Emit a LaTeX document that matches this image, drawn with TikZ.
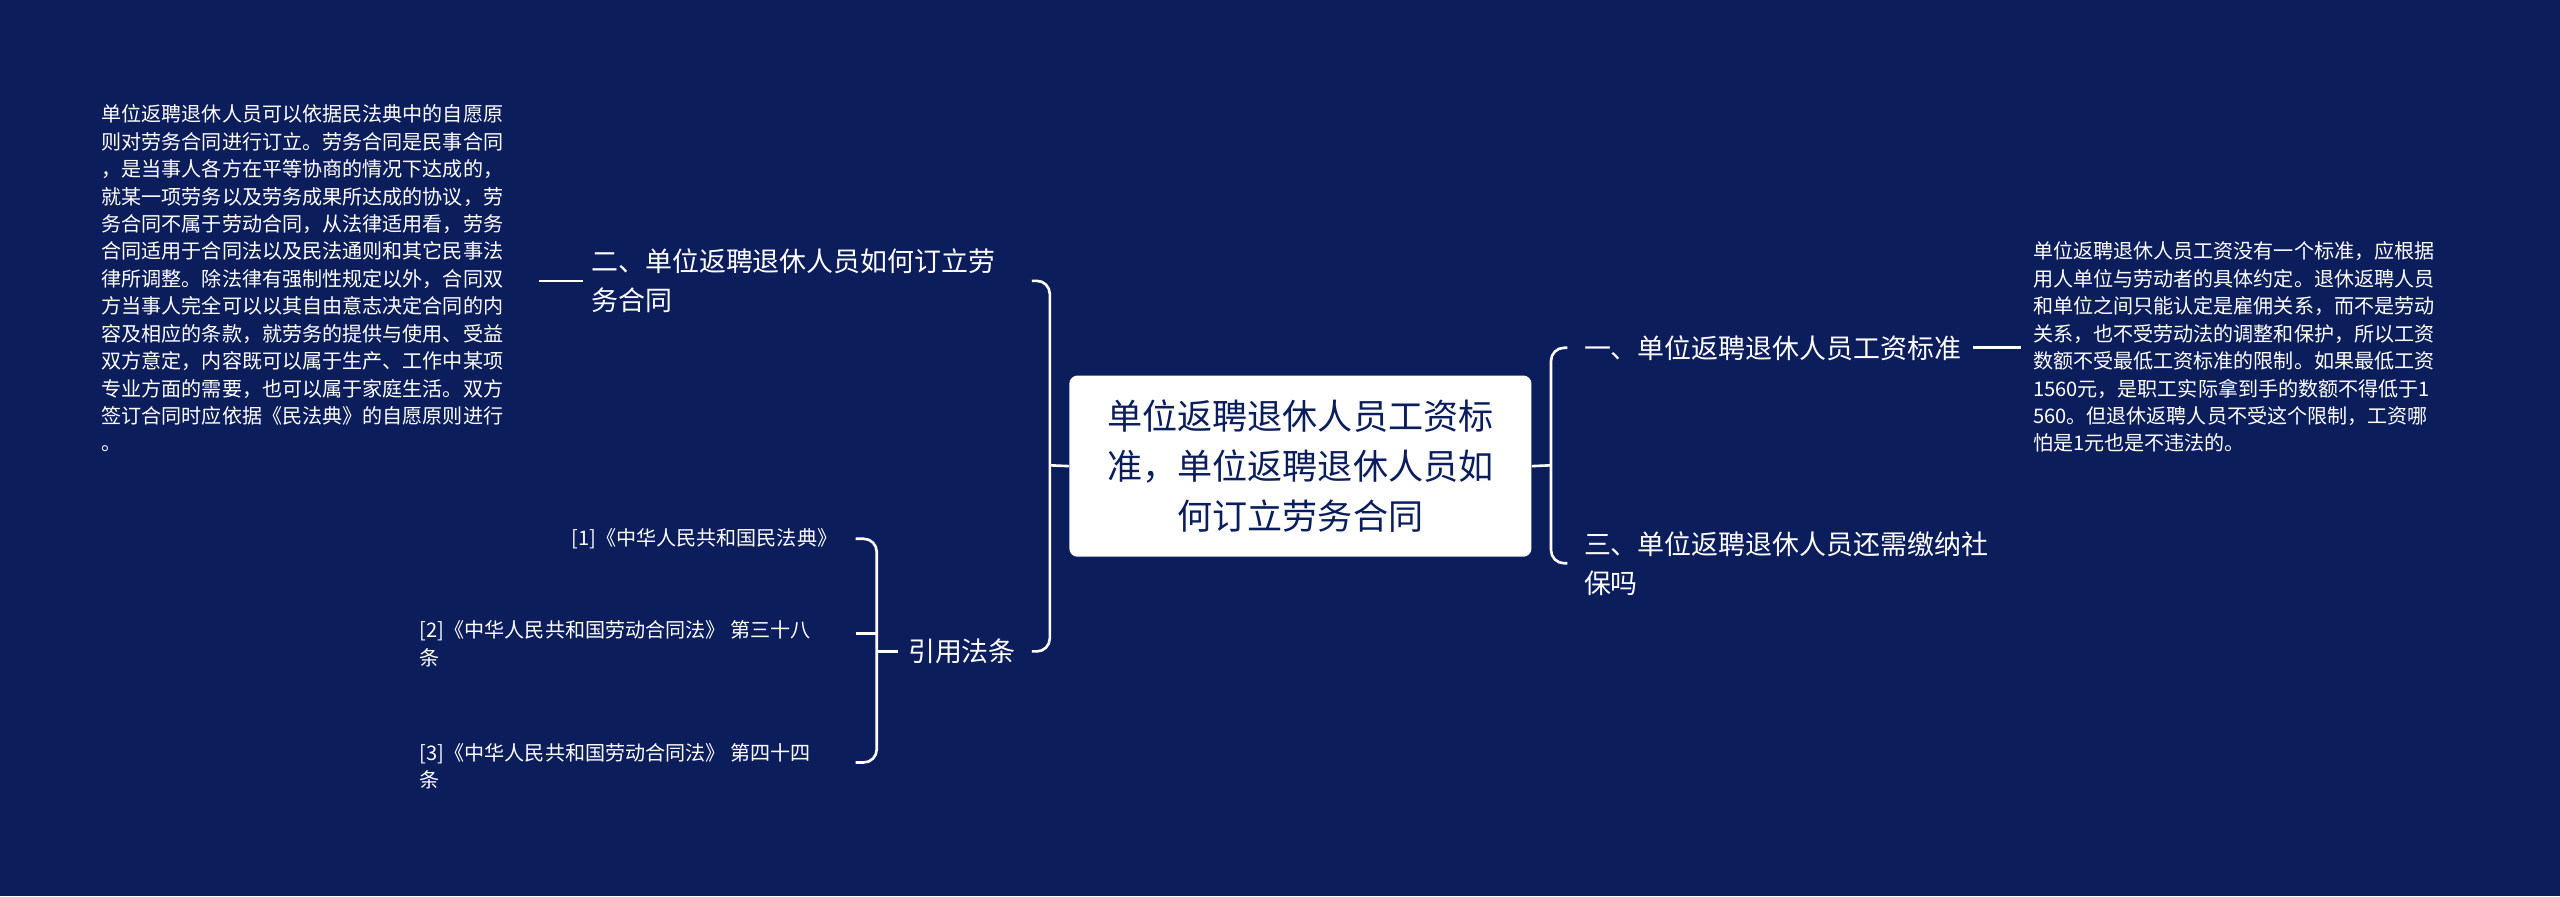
\documentclass[tikz,border=0pt]{standalone}
\usepackage{fontspec}
\setmainfont{Noto Sans CJK SC}
\definecolor{bg}{HTML}{0B1E5B}
\begin{document}
\begin{tikzpicture}[x=1pt,y=-1pt,
  small/.style={text=white,font=\fontsize{12.3}{16.8}\selectfont,inner sep=0pt,align=left},
  branch/.style={text=white,font=\fontsize{16.5}{24}\selectfont,inner sep=0pt,align=left},
  center/.style={fill=white,rounded corners=5pt,text=bg,font=\fontsize{21.5}{30.5}\selectfont,align=center,minimum width=283pt,minimum height=111pt,inner sep=0pt},
  conn/.style={draw=white,line width=1.6pt,rounded corners=8pt}]
\fill[bg] (0,0) rectangle (1568,549);
\useasboundingbox (0,0) rectangle (1568,549);
\node[center] (c) at (796.5,285.5) {单位返聘退休人员工资标\\准，单位返聘退休人员如\\何订立劳务合同};
\node[branch,anchor=west] (b2) at (362,172) {二、单位返聘退休人员如何订立劳\\务合同};
\node[branch,anchor=west] (b4) at (556,399) {引用法条};
\node[branch,anchor=west] (b1) at (970,213) {一、单位返聘退休人员工资标准};
\node[branch,anchor=west] (b3) at (970,345) {三、单位返聘退休人员还需缴纳社\\保吗};
\node[small,anchor=north west] (t2) at (62,64) {单位返聘退休人员可以依据民法典中的自愿原\\则对劳务合同进行订立。劳务合同是民事合同\\，是当事人各方在平等协商的情况下达成的，\\就某一项劳务以及劳务成果所达成的协议，劳\\务合同不属于劳动合同，从法律适用看，劳务\\合同适用于合同法以及民法通则和其它民事法\\律所调整。除法律有强制性规定以外，合同双\\方当事人完全可以以其自由意志决定合同的内\\容及相应的条款，就劳务的提供与使用、受益\\双方意定，内容既可以属于生产、工作中某项\\专业方面的需要，也可以属于家庭生活。双方\\签订合同时应依据《民法典》的自愿原则进行\\。};
\node[small,anchor=north west] (t1) at (1245,148) {单位返聘退休人员工资没有一个标准，应根据\\用人单位与劳动者的具体约定。退休返聘人员\\和单位之间只能认定是雇佣关系，而不是劳动\\关系，也不受劳动法的调整和保护，所以工资\\数额不受最低工资标准的限制。如果最低工资\\1560元，是职工实际拿到手的数额不得低于1\\560。但退休返聘人员不受这个限制，工资哪\\怕是1元也是不违法的。};
\node[small,anchor=east] (r1) at (513,330) {[1]《中华人民共和国民法典》};
\node[small,anchor=north west] (r2) at (257,380) {[2]《中华人民共和国劳动合同法》 第三十八\\条};
\node[small,anchor=north west] (r3) at (257,455) {[3]《中华人民共和国劳动合同法》 第四十四\\条};
% connectors
\coordinate (lj) at (643,285);
\draw[conn] (c.west) -- (lj);
\draw[conn] (632,172) -- (643,172) -- (643,399) -- (632,399);
\draw[conn] (c.east) -- (950,285);
\draw[conn] (960,213) -- (950,213) -- (950,345) -- (960,345);
\draw[conn] (b2.west)++(-5,0) -- (330,172);
\draw[conn] (b1.east)++(7,0) -- (1238,213);
\draw[conn] (b4.west)++(-6,0) -- (537,399);
\draw[conn] (524,330) -- (537,330) -- (537,467) -- (524,467);
\draw[conn] (524,388) -- (537,388);
\end{tikzpicture}
\end{document}
